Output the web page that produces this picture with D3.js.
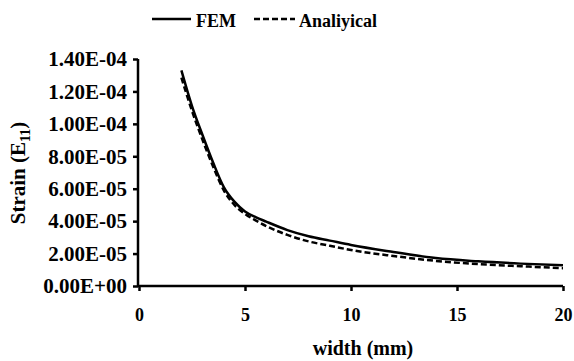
<!DOCTYPE html>
<html><head><meta charset="utf-8">
<script src="https://cdn.jsdelivr.net/npm/d3@7"></script>
<style>body{margin:0;background:#fff}svg{display:block}text{font-family:"Liberation Serif","Times New Roman",serif;font-weight:bold;fill:#000}</style>
</head><body><svg id="c" width="574" height="361"></svg>
<script>
const widths = [2,2.5,3,3.5,4,4.5,5,5.5,6,7,8,9,10,12,14,16,18,20];
const femValues = [1.33e-4,1.11e-4,9.3e-5,7.6e-5,6.1e-5,5.2e-5,4.6e-5,4.25e-5,3.97e-5,3.45e-5,3.07e-5,2.8e-5,2.53e-5,2.1e-5,1.72e-5,1.52e-5,1.38e-5,1.28e-5];
const anaValues = [1.285e-4,1.08e-4,9.0e-5,7.35e-5,5.9e-5,5.0e-5,4.45e-5,4.05e-5,3.7e-5,3.15e-5,2.75e-5,2.48e-5,2.22e-5,1.85e-5,1.55e-5,1.35e-5,1.22e-5,1.1e-5];
const xTicks = [0,5,10,15,20];
const yTicks = [0,2e-5,4e-5,6e-5,8e-5,1e-4,1.2e-4,1.4e-4];
const yTickLabels = ["0.00E+00","2.00E-05","4.00E-05","6.00E-05","8.00E-05","1.00E-04","1.20E-04","1.40E-04"];
const seriesNames = ["FEM","Analiyical"];

const svg = d3.select("#c");
const x = d3.scaleLinear().domain([0,20]).range([139,563]);
const y = d3.scaleLinear().domain([0,1.4e-4]).range([286,59]);

const xAxis = d3.axisBottom(x).tickValues(xTicks).tickSize(5).tickPadding(17).tickFormat(d3.format("d"));
const gx = svg.append("g").attr("transform","translate(0,286)").call(xAxis);
gx.select(".domain").attr("d","M138,0H563").attr("stroke","#000").attr("stroke-width",2.5);
gx.selectAll(".tick line").attr("stroke-width",2.5);
gx.selectAll(".tick text").attr("font-size",18).attr("font-family","Liberation Serif").attr("font-weight","bold");

const yAxis = d3.axisLeft(y).tickValues(yTicks).tickSize(5).tickPadding(6).tickFormat((d,i)=>yTickLabels[i]);
const gy = svg.append("g").attr("transform","translate(138,0)").call(yAxis);
gy.select(".domain").attr("d","M0,59V287").attr("stroke","#000").attr("stroke-width",2.5);
gy.selectAll(".tick line").attr("stroke-width",2.5);
gy.selectAll(".tick text").attr("font-size",21).attr("font-family","Liberation Serif").attr("font-weight","bold");

const line = d3.line().curve(d3.curveMonotoneX);
svg.append("path").attr("d",line(widths.map((w,i)=>[x(w),y(femValues[i])]))).attr("fill","none").attr("stroke","#000").attr("stroke-width",2.5);
svg.append("path").attr("d",line(widths.map((w,i)=>[x(w),y(anaValues[i])]))).attr("fill","none").attr("stroke","#000").attr("stroke-width",2.5).attr("stroke-dasharray","6,3");

svg.append("text").attr("x",363).attr("y",355).attr("text-anchor","middle").attr("font-size",20).text("width (mm)");
const yt = svg.append("text").attr("transform","translate(25,173) rotate(-90)").attr("text-anchor","middle").attr("font-size",21);
yt.append("tspan").text("Strain (E");
yt.append("tspan").attr("font-size",14).attr("dy",5).text("11");
yt.append("tspan").attr("dy",-5).text(")");

const lg = svg.append("g");
lg.append("line").attr("x1",152).attr("x2",191).attr("y1",19).attr("y2",19).attr("stroke","#000").attr("stroke-width",2.5);
lg.append("text").attr("x",196).attr("y",27).attr("font-size",18).text(seriesNames[0]);
lg.append("line").attr("x1",254).attr("x2",295).attr("y1",19).attr("y2",19).attr("stroke","#000").attr("stroke-width",2.5).attr("stroke-dasharray","6,3");
lg.append("text").attr("x",299).attr("y",27).attr("font-size",18).text(seriesNames[1]);
</script></body></html>
